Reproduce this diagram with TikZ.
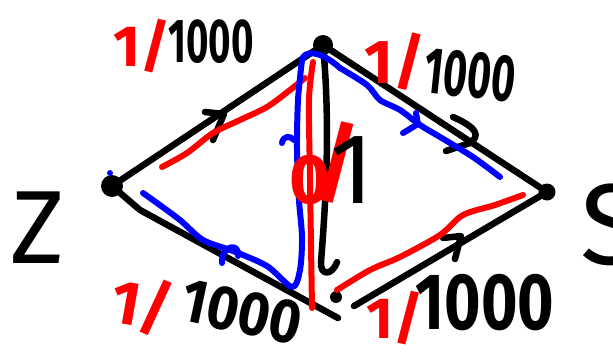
\documentclass[tikz,border=0pt]{standalone}
\usepackage{fontspec}
\setmainfont{Fira Sans}
\begin{document}
\begin{tikzpicture}[x=1pt,y=-1pt, line cap=round, line join=round,
  edge/.style={line width=6.5pt, black},
  redflow/.style={line width=6pt, red},
  blueflow/.style={line width=6pt, blue},
  vtx/.style={circle, fill=black, inner sep=0pt, minimum size=#1},
  lab/.style={inner sep=0pt, font=\fontsize{#1}{#1}\selectfont\bfseries},
  letter/.style={inner sep=0pt, font=\fontsize{#1}{#1}\selectfont}]
\useasboundingbox (0,0) rectangle (613,362);

% vertices
\node[vtx=22pt] (Z) at (112,186) {};
\node[vtx=20pt] (T) at (323,45) {};
\node[vtx=17pt] (S) at (547,192) {};
\node[vtx=12pt] (B) at (336,297) {};
\coordinate (Bz) at (338,318);
\coordinate (Bs) at (354,306);
\coordinate (Zk) at (140,210);
\coordinate (Vb) at (321,262);

% black edges
\draw[edge] (Z.center) -- (T.center);
\draw[edge] (T.center) -- (S.center);
\draw[edge] (Z.center) -- (Zk) -- (Bz);
\draw[edge] (Bs) -- (S.center);
\draw[edge] (T.center) .. controls (331,130) and (325,210) .. (Vb)
  .. controls (320,276) and (332,276) .. (337,262);

% black arrowheads
\draw[edge] (205,112) -- (224,114) -- (213,140);
\draw[edge] (453,117) .. controls (478,128) and (480,136) .. (470,143) -- (446,151);
\draw[edge] (443,238) -- (461,236) -- (455,259);

% red flow
\draw[redflow] plot[smooth] coordinates {(162,167) (187,153) (213,133) (240,120) (267,107) (290,90) (305,78)};
\draw[redflow] plot[smooth] coordinates {(313,62) (309,100) (310,180) (312,308)};
\draw[redflow] plot[smooth] coordinates {(337,290) (370,270) (400,257) (440,235) (463,215) (495,205) (523,195)};

% blue flow
\draw[blueflow] plot[smooth] coordinates {(143,193) (157,203) (180,220) (203,240) (233,251) (267,266) (292,287) (300,270) (302,237) (299,200) (297,150) (298,100) (302,60)};
\draw[blueflow] (302,60) .. controls (304,50) and (320,50) .. (340,68);
\draw[blueflow] plot[smooth] coordinates {(340,68) (367,85) (380,100) (400,110) (420,125) (440,137) (473,157) (500,177)};
\draw[blueflow] (403,133) -- (418,124) -- (416,113);
\draw[blueflow] (222,263) .. controls (221,245) and (240,242) .. (238,256);
\draw[blueflow] (282,143) .. controls (283,136) and (290,135) .. (294,140);
\fill[blue] (110,173) circle (3pt);

% labels
\node[lab=58, red] (l1r) at (142,46) {1/};
\node[lab=62] (l1b) at (211,42) {\scalebox{0.62}[1]{1000}};

\node[lab=62, red] (l2r) at (395,62) {1/};
\node[lab=66, rotate=-6] (l2b) at (470,75) {\scalebox{0.62}[1]{1000}};

\node[lab=62, red, rotate=-10] (l3r) at (142,305) {1/};
\node[lab=62, rotate=-12] (l3b) at (242,312) {\scalebox{0.88}[1]{1000}};

\node[lab=58, red] (l4r) at (395,318) {1/};
\node[lab=80] (l4b) at (485,303) {\scalebox{0.78}[1]{1000}};

\node[lab=70, red] (m0) at (310,180) {0};
\node[lab=88, red] (ms) at (337,163) {/};
\node[letter=100] (m1) at (352,170) {1};

\node[letter=104] (zl) at (38,228) {Z};
\node[letter=115] (sl) at (612,225) {S};
\end{tikzpicture}
\end{document}
